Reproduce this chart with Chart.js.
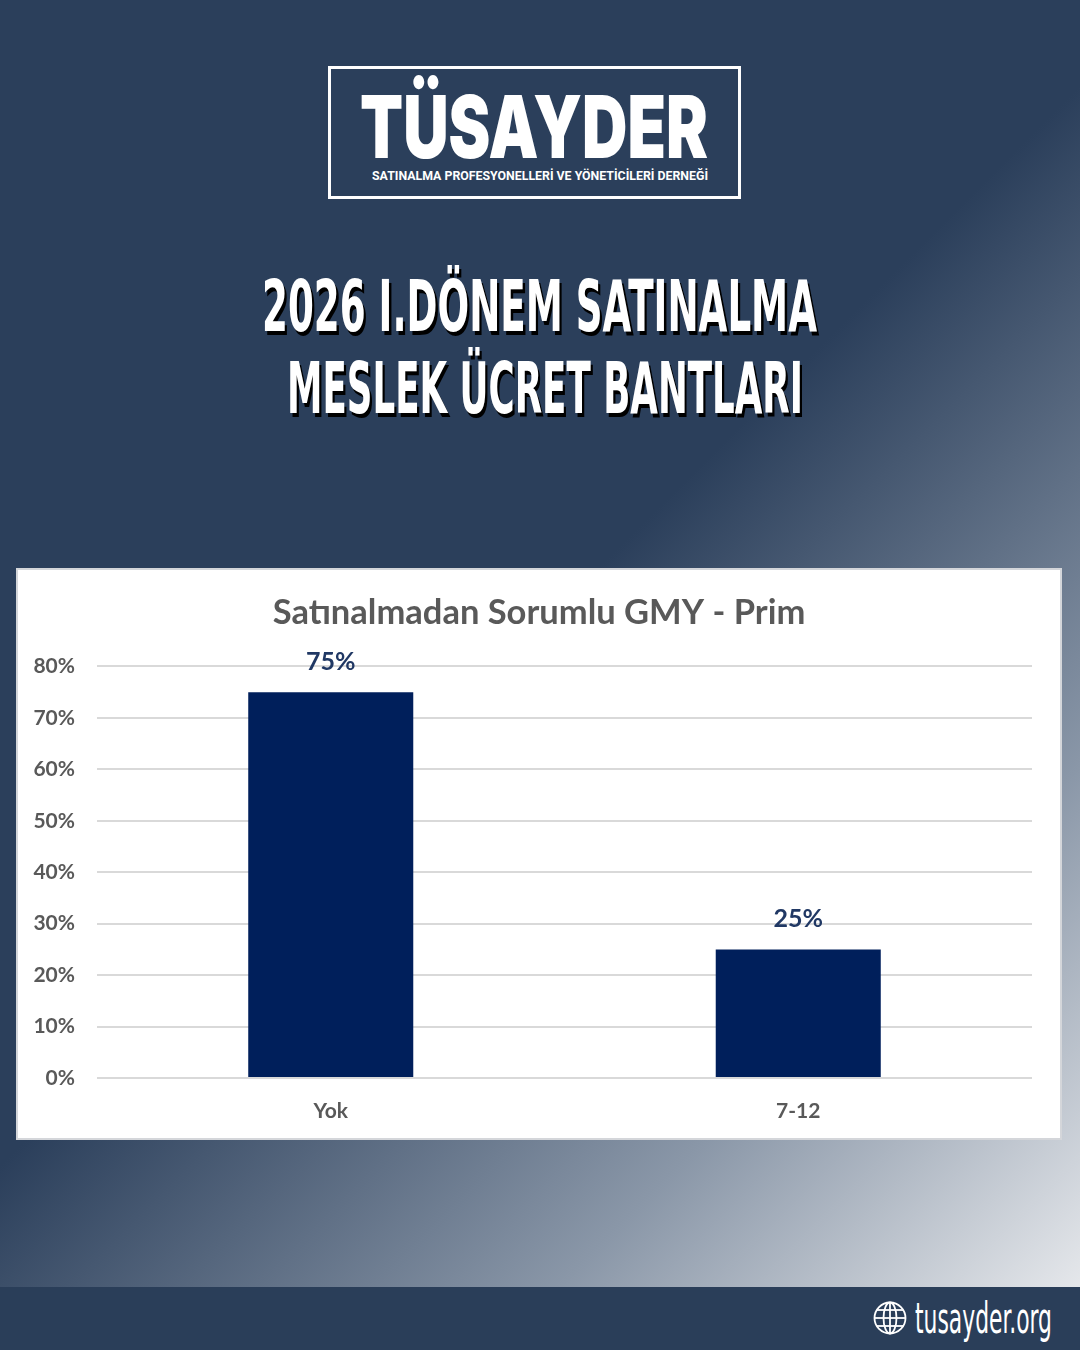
<!DOCTYPE html>
<html>
<head>
<meta charset="utf-8">
<script src="https://cdn.jsdelivr.net/npm/chart.js@4.4.1/dist/chart.umd.min.js"></script>
<style>
  html, body { margin: 0; padding: 0; }
  body {
    width: 1080px; height: 1350px; position: relative; overflow: hidden;
    background: linear-gradient(135deg, #2b3f5b 0%, #2b3f5b 48%, #8a97a8 76%, #f0f1f3 100%);
  }
  .logo {
    position: absolute; left: 328px; top: 66px; width: 413px; height: 133px;
    box-sizing: border-box; border: 3px solid #fff;
  }
  .fit { position: absolute; white-space: nowrap; line-height: 1; color: #fff; transform-origin: 0 0; }
  .brand { font-family: Inter, Roboto, sans-serif; font-weight: 900; font-size: 86px; }
  .tagline { font-family: Roboto, sans-serif; font-weight: 700; font-size: 12px; }
  .headline {
    font-family: "Liberation Sans Narrow", "DejaVu Sans Condensed", sans-serif;
    font-weight: 700; font-size: 71px; text-shadow: 4px 4px 0 #000;
  }
  .panel {
    position: absolute; left: 16px; top: 568px; width: 1046px; height: 572px;
    box-sizing: border-box; border: 2px solid #d4d6da; background: #fff;
  }
  .footer { position: absolute; left: 0; top: 1287px; width: 1080px; height: 63px; background: #2a3e59; }
  .site { font-family: "Liberation Sans Narrow", "DejaVu Sans Condensed", sans-serif; font-size: 43px; }
</style>
</head>
<body>
<div class="logo"></div>
<div class="fit brand" data-left="360" data-width="348" style="top:84px">TÜSAYDER</div>
<div class="fit tagline" data-left="372" data-width="336" style="top:170px">SATINALMA PROFESYONELLERİ VE YÖNETİCİLERİ DERNEĞİ</div>

<div class="fit headline" data-left="262" data-width="555" style="top:271px">2026 I.DÖNEM SATINALMA</div>
<div class="fit headline" data-left="287" data-width="516" style="top:353px">MESLEK ÜCRET BANTLARI</div>

<div class="panel">
  <canvas id="prim-chart" width="1042" height="568"></canvas>
</div>

<div class="footer"></div>
<svg style="position:absolute; left:873px; top:1301px" width="34" height="34" viewBox="0 0 34 34">
  <g fill="none" stroke="#fff" stroke-width="1.8">
    <circle cx="17" cy="17" r="15.5"/>
    <ellipse cx="17" cy="17" rx="6.5" ry="15.5"/>
    <line x1="17" y1="1.5" x2="17" y2="32.5"/>
    <line x1="1.5" y1="17" x2="32.5" y2="17"/>
    <line x1="4" y1="9" x2="30" y2="9"/>
    <line x1="4" y1="25" x2="30" y2="25"/>
  </g>
</svg>
<div class="fit site" data-left="915" data-width="137" style="top:1297px">tusayder.org</div>

<script>
const categories = ['Yok', '7-12'];
const shares = [75, 25];
const yMax = 80;
const yStep = 10;

const chartTitle = 'Satınalmadan Sorumlu GMY - Prim';
const barColor = '#001f5b';
const labelColor = '#203864';
const textGray = '#595959';

// stretch each text block to the width it has in the picture
function fitText() {
    const items = document.querySelectorAll('.fit');
    for (let i = 0; i < items.length; i++) {
        const el = items[i];
        el.style.transform = '';
        el.style.left = el.dataset.left + 'px';
        const w = el.getBoundingClientRect().width;
        el.style.transform = 'scaleX(' + (Number(el.dataset.width) / w) + ')';
    }
}

// value labels above the bars
const barValueLabels = {
    id: 'barValueLabels',
    afterDatasetsDraw(chart) {
        const ctx = chart.ctx;
        const meta = chart.getDatasetMeta(0);
        ctx.save();
        ctx.font = 'bold 25px Lato';
        ctx.fillStyle = labelColor;
        ctx.textAlign = 'center';
        ctx.textBaseline = 'middle';
        meta.data.forEach(function(bar, i) {
            ctx.fillText(shares[i] + '%', bar.x, bar.y - 30);
        });
        ctx.restore();
    }
};

const ctx = document.getElementById('prim-chart').getContext('2d');

function drawChart() {
    new Chart(ctx, {
        type: 'bar',
        data: {
            labels: categories,
            datasets: [{
                data: shares,
                backgroundColor: barColor,
                borderWidth: 0,
                barPercentage: 0.353,
                categoryPercentage: 1
            }]
        },
        options: {
            responsive: false,
            animation: false,
            layout: { padding: 0 },
            plugins: {
                legend: { display: false },
                tooltip: { enabled: false },
                title: {
                    display: true,
                    text: chartTitle,
                    color: textGray,
                    font: { family: 'Lato', size: 34.5, weight: 'bold' },
                    padding: { top: 22, bottom: 33 }
                }
            },
            scales: {
                x: {
                    grid: { display: false },
                    border: { display: false },
                    ticks: { color: textGray, font: { family: 'Lato', size: 21, weight: 'bold' }, padding: 13 },
                    afterFit(scale) { scale.height = 60; }
                },
                y: {
                    min: 0,
                    max: yMax,
                    grid: { color: '#d9d9d9', lineWidth: 2, drawTicks: false },
                    border: { display: false },
                    ticks: {
                        stepSize: yStep,
                        color: textGray,
                        font: { family: 'Lato', size: 21, weight: 'bold' },
                        padding: 22,
                        callback: function(v) { return v + '%'; }
                    },
                    afterFit(scale) { scale.width = 79; }
                },
                // empty right axis: keeps the right margin while the title stays centred on the panel
                yPad: {
                    axis: 'y',
                    position: 'right',
                    grid: { display: false, drawOnChartArea: false },
                    border: { display: false },
                    ticks: { display: false },
                    afterFit(scale) { scale.width = 28; }
                }
            }
        },
        plugins: [barValueLabels]
    });
}

document.fonts.ready.then(function() {
    fitText();
    drawChart();
});
</script>
</body>
</html>
